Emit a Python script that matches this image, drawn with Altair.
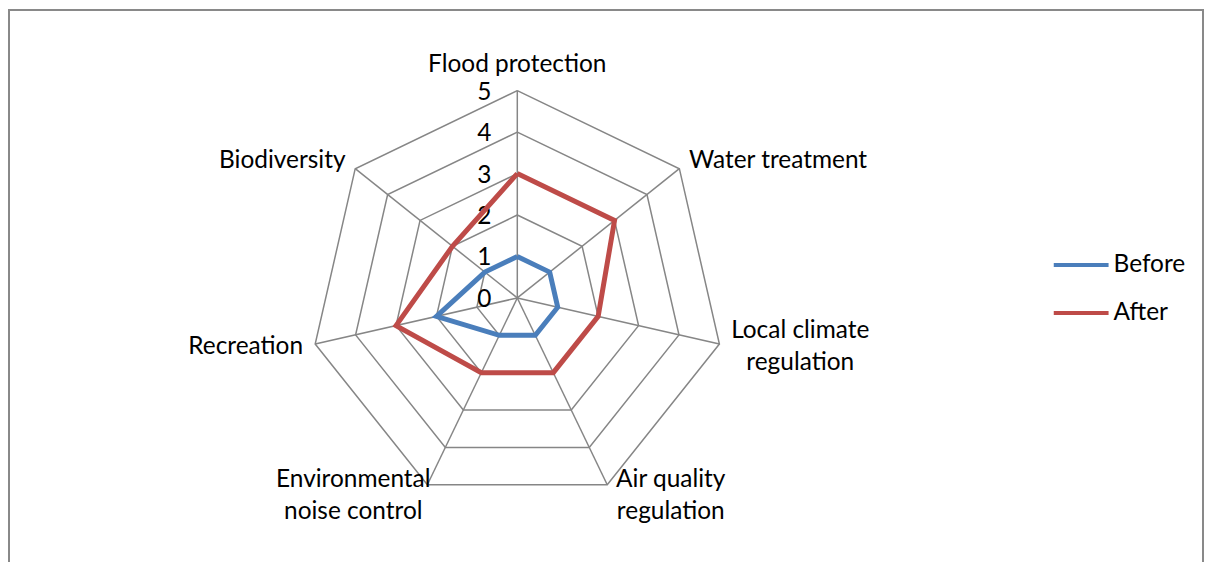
import altair as alt
import pandas as pd

# ---- data ----
categories = ["Flood protection", "Water treatment", "Local climate\nregulation",
              "Air quality\nregulation", "Environmental\nnoise control",
              "Recreation", "Biodiversity"]
series_names = ["Before", "After"]
before = [1, 1, 1, 1, 1, 2, 1]
after = [3, 3, 2, 2, 2, 3, 2]
tick_values = [0, 1, 2, 3, 4, 5]
tick_labels = ["0", "1", "2", "3", "4", "5"]
colors = ["#4A7EBB", "#BE4B48"]

N = len(categories)
FONT = "Lato"
FS = 24.5
LH = 32          # line height of two-line labels
CHAR_W = 10.6    # rough average glyph width, for centring two-line labels

# ---- tables built from the arrays ----
rows = []
for name, vals in zip(series_names, [before, after]):
    for i in range(N + 1):
        rows.append({"series": name, "idx": i % N, "ord": i, "value": vals[i % N]})
series_df = pd.DataFrame(rows)

grid_df = pd.DataFrame([{"level": lv, "idx": i % N, "ord": i, "value": lv}
                        for lv in tick_values[1:] for i in range(N + 1)])
spoke_df = pd.DataFrame([{"idx": i, "value": max(tick_values)} for i in range(N)])
label_df = pd.DataFrame([{"idx": i, "label": c, "value": max(tick_values),
                          "nlines": len(c.split("\n")),
                          "maxlen": max(len(s) for s in c.split("\n"))}
                         for i, c in enumerate(categories)])
tick_df = pd.DataFrame({"value": tick_values, "label": tick_labels})

# ---- layout (pixels -> data units) ----
W, H = 1200, 555
U = 41.6            # pixels per unit value
CX, CY = 511, 290   # centre of the radar in chart coordinates
xscale = alt.Scale(domain=[-CX / U, (W - CX) / U], nice=False, zero=False)
yscale = alt.Scale(domain=[-(H - CY) / U, CY / U], nice=False, zero=False)

ang = f"2*PI*datum.idx/{N}"


def polarize(ch):
    return ch.transform_calculate(
        x=f"datum.value*sin({ang})", y=f"datum.value*cos({ang})"
    )


X = alt.X("x:Q", scale=xscale, axis=None)
Y = alt.Y("y:Q", scale=yscale, axis=None)

grid = polarize(alt.Chart(grid_df).mark_line(color="#868686", strokeWidth=1.5)).encode(
    x=X, y=Y, detail="level:N", order="ord:Q")

spokes = alt.Chart(spoke_df).mark_rule(color="#868686", strokeWidth=1.5).transform_calculate(
    x=f"datum.value*sin({ang})", y=f"datum.value*cos({ang})", x0="0", y0="0"
).encode(x=alt.X("x0:Q", scale=xscale, axis=None), y=alt.Y("y0:Q", scale=yscale, axis=None),
         x2="x:Q", y2="y:Q")

lines = polarize(alt.Chart(series_df).mark_line(strokeWidth=5, strokeJoin="miter")).encode(
    x=X, y=Y, order="ord:Q",
    color=alt.Color("series:N", scale=alt.Scale(domain=series_names, range=colors),
                    sort=series_names,
                    legend=alt.Legend(title=None, orient="none", legendX=1060.75,
                                      legendY=241,
                                      symbolType="M-2,0H2", symbolSize=756,
                                      symbolStrokeWidth=4, labelOffset=16.5,
                                      labelFontSize=FS, labelFont=FONT, labelColor="black",
                                      rowPadding=20, padding=0)))

ticks = alt.Chart(tick_df).mark_text(align="center", baseline="middle", fontSize=FS,
                                     font=FONT, color="black").transform_calculate(
    tx=f"-33/{U}", ty=f"datum.value - 2/{U}"
).encode(x=alt.X("tx:Q", scale=xscale, axis=None), y=alt.Y("ty:Q", scale=yscale, axis=None),
         text="label:N")


def cat_labels(filt, align):
    return alt.Chart(label_df).transform_calculate(
        side=f"sin({ang}) > 0.1 ? 1 : (sin({ang}) < -0.1 ? -1 : 0)",
    ).transform_calculate(
        lx=(f"(datum.value + 12.5/{U})*sin({ang})"
            f" + (datum.nlines > 1 ? datum.side*datum.maxlen*{CHAR_W}/2/{U} : 0)"),
        ly=(f"(datum.value + 12.5/{U})*cos({ang}) + (datum.idx == 0 ? 13/{U} : 0)"
            f" + (datum.nlines - 1)*{LH}/2/{U}"),
    ).transform_filter(filt).mark_text(
        align=align, baseline="middle", fontSize=FS, font=FONT, color="black",
        lineHeight=LH, lineBreak="\n"
    ).encode(x=alt.X("lx:Q", scale=xscale, axis=None), y=alt.Y("ly:Q", scale=yscale, axis=None),
             text="label:N")


lab_r = cat_labels("datum.side == 1 && datum.nlines == 1", "left")
lab_l = cat_labels("datum.side == -1 && datum.nlines == 1", "right")
lab_c = cat_labels("datum.side == 0 || datum.nlines > 1", "center")

frame_l = alt.Chart(tick_df).mark_rule(color="#898989", strokeWidth=2).encode(
    x=alt.value(1), y=alt.value(0), y2=alt.value(H))
frame_t = alt.Chart(tick_df).mark_rule(color="#898989", strokeWidth=2).encode(
    x=alt.value(0), x2=alt.value(W), y=alt.value(1))
frame_r = alt.Chart(tick_df).mark_rule(color="#898989", strokeWidth=2).encode(
    x=alt.value(W - 1), y=alt.value(0), y2=alt.value(H))

chart = alt.layer(grid, spokes, ticks, lines, lab_r, lab_l, lab_c, frame_l, frame_t, frame_r).properties(
    width=W, height=H, autosize=alt.AutoSizeParams(type="none"), padding=0,
    background="white"
).configure_view(stroke=None)

chart.save("out.html", embed_options={"renderer": "svg", "actions": False})
